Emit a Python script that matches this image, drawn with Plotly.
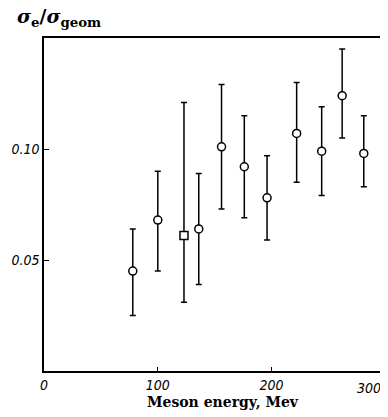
import plotly.graph_objects as go

# Circle points
energy = [78, 100, 136, 156, 176, 196, 222, 244, 262, 281]
value = [0.045, 0.068, 0.064, 0.101, 0.092, 0.078, 0.107, 0.099, 0.124, 0.098]
upper = [0.064, 0.090, 0.089, 0.129, 0.115, 0.097, 0.130, 0.119, 0.145, 0.115]
lower = [0.025, 0.045, 0.039, 0.073, 0.069, 0.059, 0.085, 0.079, 0.105, 0.083]

# Square point
sq_energy = [123]
sq_value = [0.061]
sq_upper = [0.121]
sq_lower = [0.031]

x_ticks = [0, 100, 200]
y_ticks = [0.05, 0.10]
y_tick_text = ["0.05", "0.10"]

def errs(v, up, lo):
    return [u - a for a, u in zip(v, up)], [a - l for a, l in zip(v, lo)]

ep, em = errs(value, upper, lower)
sp, sm = errs(sq_value, sq_upper, sq_lower)

fig = go.Figure()
fig.add_trace(go.Scatter(
    x=energy, y=value, mode="markers",
    marker=dict(symbol="circle", size=8, color="white", line=dict(color="black", width=1.5)),
    error_y=dict(type="data", array=ep, arrayminus=em, color="black", thickness=1.5, width=3),
    showlegend=False,
))
fig.add_trace(go.Scatter(
    x=sq_energy, y=sq_value, mode="markers",
    marker=dict(symbol="square", size=8, color="white", line=dict(color="black", width=1.5)),
    error_y=dict(type="data", array=sp, arrayminus=sm, color="black", thickness=1.5, width=3),
    showlegend=False,
))

tickfont = dict(family="DejaVu Sans Condensed, DejaVu Sans", size=14, color="black", style="italic")

fig.update_layout(
    width=380, height=409,
    margin=dict(l=36, r=6, t=30, b=46, autoexpand=False),
    paper_bgcolor="white", plot_bgcolor="white",
    xaxis=dict(range=[0, 297], tickvals=x_ticks, ticks="inside", ticklen=4, tickwidth=1,
               tickcolor="black", showgrid=False, zeroline=False, showline=True,
               linecolor="black", linewidth=1.5, mirror=True, tickfont=tickfont),
    yaxis=dict(range=[0, 0.15], tickvals=y_ticks, ticktext=y_tick_text, ticks="inside",
               ticklen=5, tickwidth=1, tickcolor="black", showgrid=False, zeroline=False,
               showline=True, linecolor="black", linewidth=1.5, mirror=True, tickfont=tickfont),
    annotations=[
        dict(text="300", xref="paper", yref="paper", x=1.003, y=-0.02, xanchor="right",
             yanchor="top", showarrow=False, font=tickfont),
        dict(text="<b>Meson energy, Mev</b>", xref="paper", yref="paper", x=0.531, y=-0.093,
             xanchor="center", yanchor="middle", showarrow=False,
             font=dict(family="DejaVu Serif", size=14, color="black")),
        dict(text="<b><i>σ</i><sub>e</sub>/<i>σ</i><sub>geom</sub></b>", xref="paper", yref="paper",
             x=-0.082, y=1.062, xanchor="left", yanchor="middle", showarrow=False, borderpad=0,
             font=dict(family="DejaVu Serif", size=19, color="black")),
    ],
)

fig.write_html("out.html")
